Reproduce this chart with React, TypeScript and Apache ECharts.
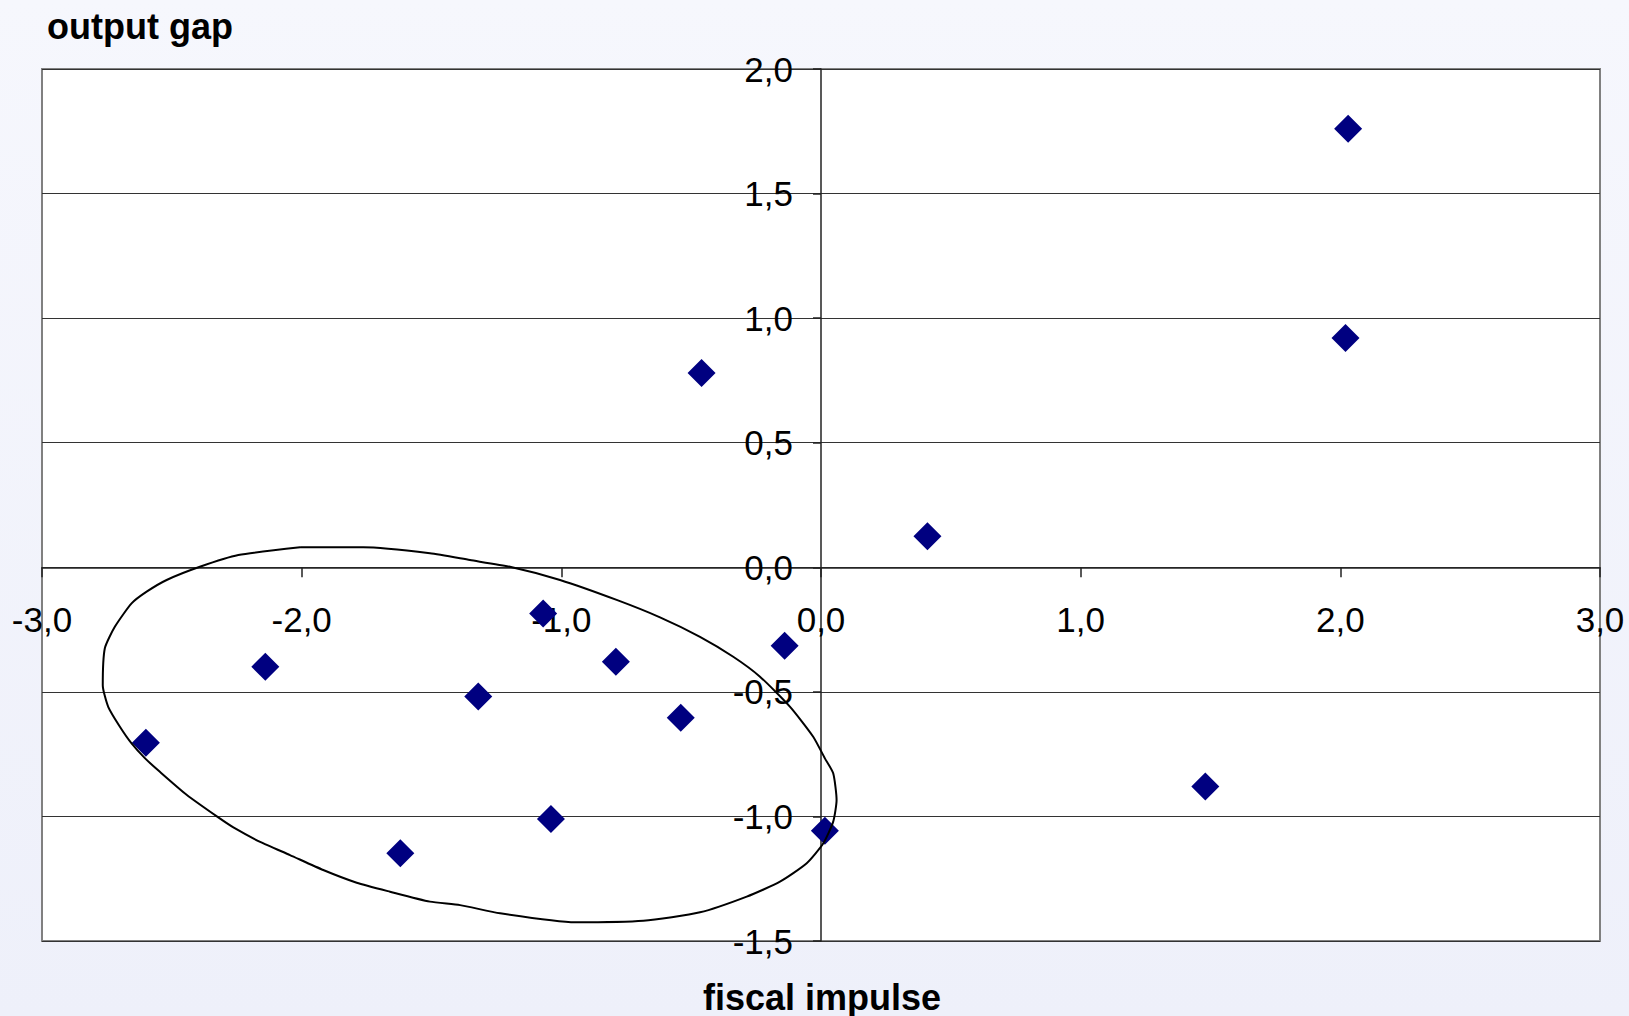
import React, { useEffect, useRef } from "react";
import * as echarts from "echarts";

// fiscal impulse (x) vs output gap (y)
const fiscalImpulse = [2.03, 2.02, -0.46, 0.41, 1.48, 0.015, -0.14, -0.54, -0.79, -1.07, -1.04, -1.32, -1.62, -2.14, -2.6];
const outputGap = [1.76, 0.92, 0.78, 0.125, -0.88, -1.057, -0.315, -0.604, -0.379, -0.185, -1.01, -0.519, -1.148, -0.399, -0.704];

// hand-drawn ellipse outline (data coordinates)
const ellipseX = [-2.006, -1.763, -1.506, -1.352, -1.198, -1.005, -0.787, -0.62, -0.466, -0.338, -0.235, -0.119, -0.03, 0.015, 0.047, 0.06, 0.047, 0.009, -0.055, -0.158, -0.286, -0.466, -0.684, -0.947, -1.236, -1.39, -1.506, -1.66, -1.788, -1.917, -2.045, -2.16, -2.263, -2.321, -2.442, -2.546, -2.603, -2.655, -2.7, -2.745, -2.766, -2.758, -2.719, -2.655, -2.597, -2.52, -2.392, -2.244, -2.006];
const ellipseY = [0.08, 0.08, 0.056, 0.029, 0.002, -0.051, -0.131, -0.201, -0.279, -0.359, -0.439, -0.56, -0.68, -0.767, -0.827, -0.934, -1.021, -1.108, -1.188, -1.262, -1.322, -1.385, -1.419, -1.425, -1.389, -1.356, -1.342, -1.302, -1.266, -1.215, -1.155, -1.102, -1.044, -1.004, -0.914, -0.821, -0.767, -0.707, -0.64, -0.56, -0.473, -0.325, -0.238, -0.145, -0.098, -0.051, 0.002, 0.049, 0.08];

const xTitle = "fiscal impulse";
const yTitle = "output gap";

const FONT = 'Arial, "Liberation Sans", sans-serif';
const fmt = (v: number) => v.toFixed(1).replace(".", ",");

const W = 1629, H = 1016;
const GRID = { left: 42, top: 69, right: 29, bottom: 75 };
const X_MIN = -3, X_MAX = 3, Y_MIN = -1.5, Y_MAX = 2;

export default function App() {
  const ref = useRef<HTMLDivElement>(null);
  useEffect(() => {
    if (!ref.current) return;
    const chart = echarts.init(ref.current, null, { renderer: "svg" });
    const plotW = W - GRID.left - GRID.right;
    const plotH = H - GRID.top - GRID.bottom;
    // move axes (line, ticks, labels) to cross at zero
    const xOffset = -plotH * (0 - Y_MIN) / (Y_MAX - Y_MIN);
    const yOffset = -plotW * (0 - X_MIN) / (X_MAX - X_MIN);
    chart.setOption({
      animation: false,
      backgroundColor: {
        type: "linear", x: 0, y: 0, x2: 0, y2: 1,
        colorStops: [
          { offset: 0, color: "#F6F7FD" },
          { offset: 1, color: "#EEF0FA" },
        ],
      },
      grid: {
        ...GRID,
        show: true, backgroundColor: "#ffffff", borderColor: "#808080", borderWidth: 2,
      },
      graphic: [
        { type: "text", left: 47, top: 8, style: { text: yTitle, font: `bold 36px ${FONT}`, fill: "#000" } },
        { type: "text", x: 822, y: 997, style: { text: xTitle, font: `bold 36px ${FONT}`, fill: "#000", align: "center", verticalAlign: "middle" } },
      ],
      xAxis: {
        type: "value", min: X_MIN, max: X_MAX, interval: 1,
        position: "bottom", offset: xOffset,
        axisLine: { onZero: false, lineStyle: { color: "#222", width: 1.5 } },
        axisTick: { show: true, inside: false, length: 10, lineStyle: { color: "#222", width: 1.5 } },
        splitLine: { show: false },
        axisLabel: { formatter: fmt, color: "#000", fontSize: 35, fontFamily: FONT, margin: 35, showMinLabel: true, showMaxLabel: true },
      },
      yAxis: {
        type: "value", min: Y_MIN, max: Y_MAX, interval: 0.5,
        position: "left", offset: yOffset,
        axisLine: { onZero: false, lineStyle: { color: "#222", width: 1.5 } },
        axisTick: { show: true, inside: false, length: 8, lineStyle: { color: "#222", width: 1.5 } },
        splitLine: { show: true, lineStyle: { color: "#333", width: 1.2 } },
        axisLabel: { formatter: fmt, color: "#000", fontSize: 35, fontFamily: FONT, margin: 28, showMinLabel: true, showMaxLabel: true },
      },
      series: [
        {
          type: "scatter",
          data: fiscalImpulse.map((x, i) => [x, outputGap[i]]),
          symbol: "diamond",
          symbolSize: 28,
          itemStyle: { color: "#000080", opacity: 1 },
          z: 2,
        },
        {
          type: "line",
          data: ellipseX.map((x, i) => [x, ellipseY[i]]),
          showSymbol: false,
          symbol: "none",
          smooth: 0.2,
          lineStyle: { color: "#000", width: 2 },
          z: 3,
          silent: true,
        },
      ],
    });
    return () => chart.dispose();
  }, []);
  return <div ref={ref} style={{ position: "fixed", left: 0, top: 0, width: `${W}px`, height: `${H}px` }} />;
}
